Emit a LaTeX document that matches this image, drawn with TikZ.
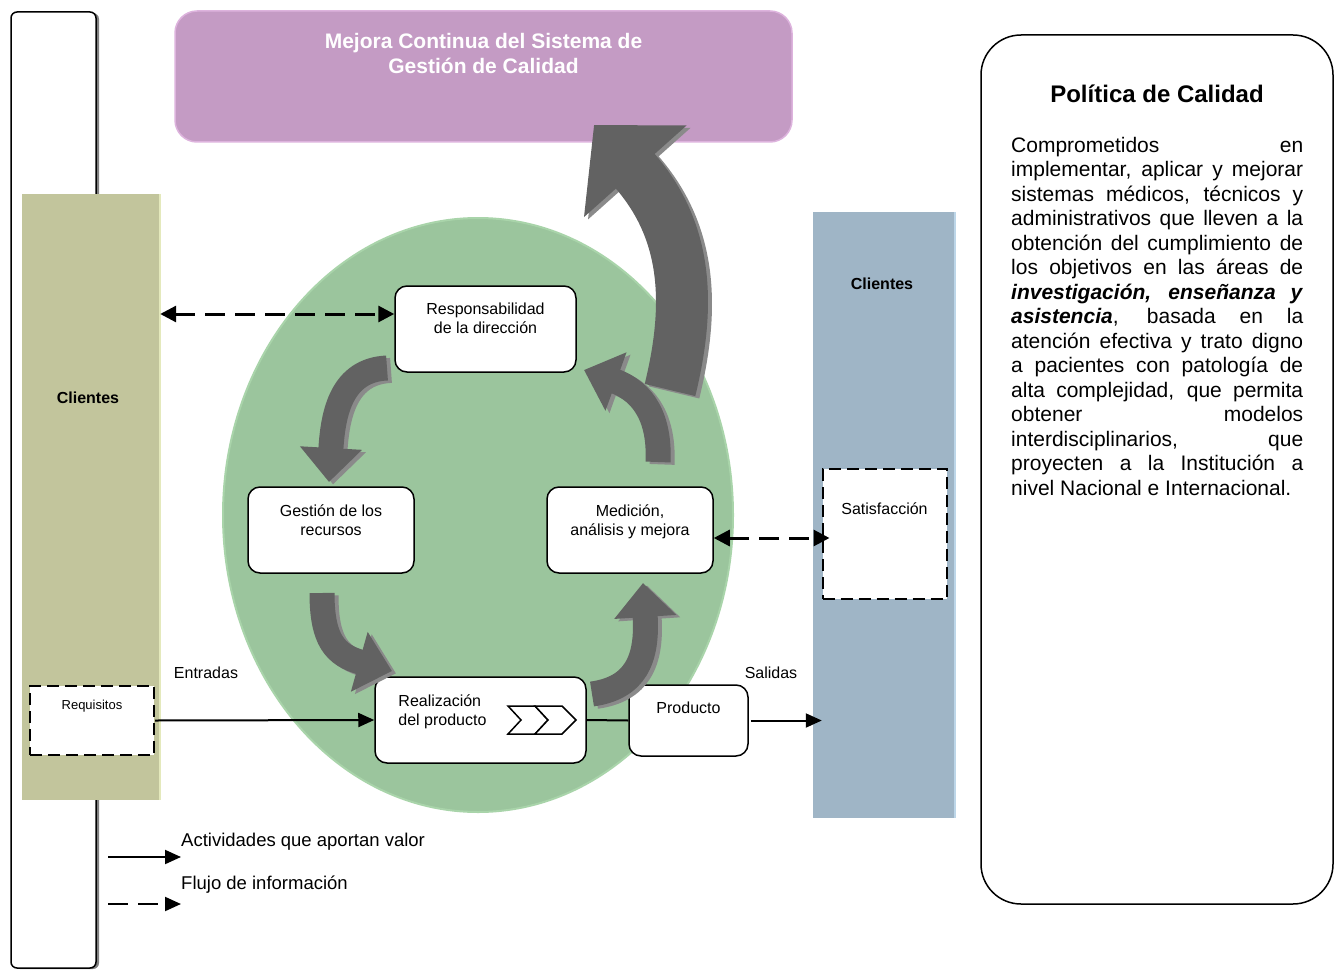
\documentclass[tikz,border=0pt]{standalone}
\usepackage{fontspec}
\setmainfont{Liberation Sans}
\usepackage{tikz}
\usetikzlibrary{arrows.meta,positioning,shadows}
\tolerance=10000
\hbadness=10000
\definecolor{olivo}{HTML}{C2C59C}
\definecolor{olivoborde}{HTML}{E4E9BC}
\definecolor{lila}{HTML}{C49BC4}
\definecolor{lilaborde}{HTML}{DDB3DD}
\definecolor{verde}{HTML}{9BC59D}
\definecolor{verdeborde}{HTML}{A9D4AA}
\definecolor{azul}{HTML}{9FB5C6}
\definecolor{azulborde}{HTML}{BDD6E8}
\definecolor{gris}{HTML}{626262}
\definecolor{gris3d}{HTML}{8A8A8A}

\begin{document}
\begin{tikzpicture}[x=1pt,y=-1pt,
    caja/.style={draw, fill=white, rounded corners=12pt, line width=1.5pt},
    punteada/.style={draw, fill=white, line width=2pt, dash pattern=on 12pt off 6pt},
    txt/.style={inner sep=0pt, align=center, font=\fontsize{16}{19}\selectfont},
    flujo/.style={line width=2pt, -{Triangle[length=16pt,width=14pt]}},
    info/.style={line width=3pt, dash pattern=on 20pt off 10pt,
        {Triangle[length=16pt,width=16pt]}-{Triangle[length=16pt,width=16pt]}},
    flecha/.style={line width=25pt, -{Triangle[length=34pt,width=60pt]}},
    flechagrande/.style={line width=52pt, -{Triangle[length=62pt,width=134pt]}}]
  \useasboundingbox (0,0) rectangle (1338,971);

  % fondos
  \node[draw, fill=white, rounded corners=6pt, line width=1.5pt, minimum width=85pt, minimum height=956pt,
        drop shadow={shadow xshift=3pt, shadow yshift=-1pt, fill=gray, opacity=1}] (marco) at (53.5,490) {};
  \node[fill=olivo, minimum width=138pt, minimum height=606pt, inner sep=0pt] (cliL) at (91,497) {};
  \draw[olivoborde, line width=2pt] (cliL.north east) -- (cliL.south east);
  \node[fill=lila, draw=lilaborde, line width=1.5pt, rounded corners=22pt,
        minimum width=617pt, minimum height=131pt] (mejora) at (483.5,76.5) {};
  \fill[verde, draw=verdeborde, line width=2pt] (478,515) ellipse [x radius=255, y radius=297];
  \node[fill=azul, minimum width=142pt, minimum height=606pt, inner sep=0pt] (cliR) at (884,515) {};
  \draw[azulborde, line width=2pt] (cliR.north east) -- (cliR.south east);
  \node[draw, line width=1.5pt, rounded corners=40pt, minimum width=352pt, minimum height=869pt] (politica) at (1157,469.5) {};

  % cajas
  \node[punteada, minimum width=124pt, minimum height=69pt] (req) at (92,720.5) {};
  \node[punteada, minimum width=124pt, minimum height=130pt] (sat) at (884.5,534) {};
  \node[caja, minimum width=181pt, minimum height=86pt] (resp) at (485.5,329) {};
  \node[caja, minimum width=166pt, minimum height=86pt] (gest) at (331,530) {};
  \node[caja, minimum width=166pt, minimum height=86pt] (medi) at (630,530) {};
  \node[caja, minimum width=211pt, minimum height=86pt] (real) at (480.5,720) {};
  \node[caja, minimum width=119pt, minimum height=71pt] (prod) at (688.5,720.5) {};

  \draw[line width=1.5pt, fill=white] (508,706) -- (535,706) -- (548,720) -- (535,734) -- (508,734) -- (521,720) -- cycle;
  \draw[line width=1.5pt, fill=white] (535,706) -- (562,706) -- (576,720) -- (562,734) -- (535,734) -- (548,720) -- cycle;

  % conectores
  \coordinate (respin) at ([yshift=15pt]resp.west);
  \coordinate (medout) at ([yshift=-8pt]medi.east);
  \draw[flujo] (req.east) -- (real.west);
  \draw[line width=2pt] (real.east) -- (prod.west);
  \draw[flujo] ([xshift=2pt]prod.east) -- ([xshift=9pt]prod.east -| cliR.west);
  \draw[info] (cliL.east |- respin) -- (respin);
  \draw[info] (medout) -- ([xshift=8pt]medout -| sat.west);

  % flechas del ciclo
  \foreach \d/\c in {4/gris3d,0/gris}{
    \begin{scope}[shift={(\d,0.6*\d)}, color=\c]
      \draw[flecha] (387,368) .. controls (342,370) and (333,412) .. (329,482);
      \draw[flecha] (322,593) .. controls (322,640) and (335,655) .. (392,671);
      \draw[flecha] (592,694) .. controls (635,688) and (648,660) .. (643,583);
      \draw[flecha] (658,462) .. controls (660,420) and (645,392) .. (584,370);
      \draw[flechagrande] (670,390) .. controls (692,300) and (686,228) .. (594,125);
    \end{scope}
  }

  % textos
  \node[txt, text=white, font=\bfseries\fontsize{21}{25}\selectfont, below=23pt of mejora.north] (mejoratxt)
    {Mejora Continua del Sistema de\\Gestión de Calidad};
  \node[txt, font=\bfseries\fontsize{16}{19}\selectfont] (cliLtxt) at (88,398) {Clientes};
  \node[txt, font=\bfseries\fontsize{16}{19}\selectfont] (cliRtxt) at (882,284) {Clientes};
  \node[txt, font=\fontsize{13}{16}\selectfont, below=15pt of req.north] (reqtxt) {Requisitos};
  \node[txt, below=35pt of sat.north] (sattxt) {Satisfacción};
  \node[txt, below=17pt of resp.north] (resptxt) {Responsabilidad\\de la dirección};
  \node[txt, below=18pt of gest.north] (gesttxt) {Gestión de los\\recursos};
  \node[txt, below=18pt of medi.north] (meditxt) {Medición,\\análisis y mejora};
  \node[txt, align=left, below right=18pt and 24pt of real.north west] (realtxt) {Realización\\del producto};
  \node[txt, below=17pt of prod.north] (prodtxt) {Producto};
  \node[txt] (entradas) at (206,673) {Entradas};
  \node[txt] (salidas) at (771,673) {Salidas};

  % leyenda
  \node[txt, anchor=west, font=\fontsize{18.5}{22}\selectfont] (ley1) at (181,842) {Actividades que aportan valor};
  \node[txt, anchor=west, font=\fontsize{18.5}{22}\selectfont] (ley2) at (181,885) {Flujo de información};
  \coordinate (ley1a) at (108,857);
  \coordinate (ley2a) at (108,904);
  \draw[flujo] (ley1a) -- (ley1a -| ley1.west);
  \draw[flujo, dash pattern=on 20pt off 10pt] (ley2a) -- (ley2a -| ley2.west);

  % politica
  \node[txt, font=\bfseries\fontsize{24}{28}\selectfont] (poltit) at (1157,94) {Política de Calidad};
  \node[txt, anchor=base west, text width=292pt, align=justify, font=\fontsize{21}{24.5}\selectfont] (poltxt) at (1011,152)
    {Comprometidos en\linebreak
     implementar, aplicar y mejorar\linebreak
     sistemas médicos, técnicos y\linebreak
     administrativos que lleven a la\linebreak
     obtención del cumplimiento de\linebreak
     los objetivos en las áreas de\linebreak
     \textbf{\textit{investigación, enseñanza y}}\linebreak
     \textbf{\textit{asistencia}}, basada en la\linebreak
     atención efectiva y trato digno\linebreak
     a pacientes con patología de\linebreak
     alta complejidad, que permita\linebreak
     obtener modelos\linebreak
     interdisciplinarios, que\linebreak
     proyecten a la Institución a\linebreak
     nivel Nacional e Internacional.};
\end{tikzpicture}
\end{document}
